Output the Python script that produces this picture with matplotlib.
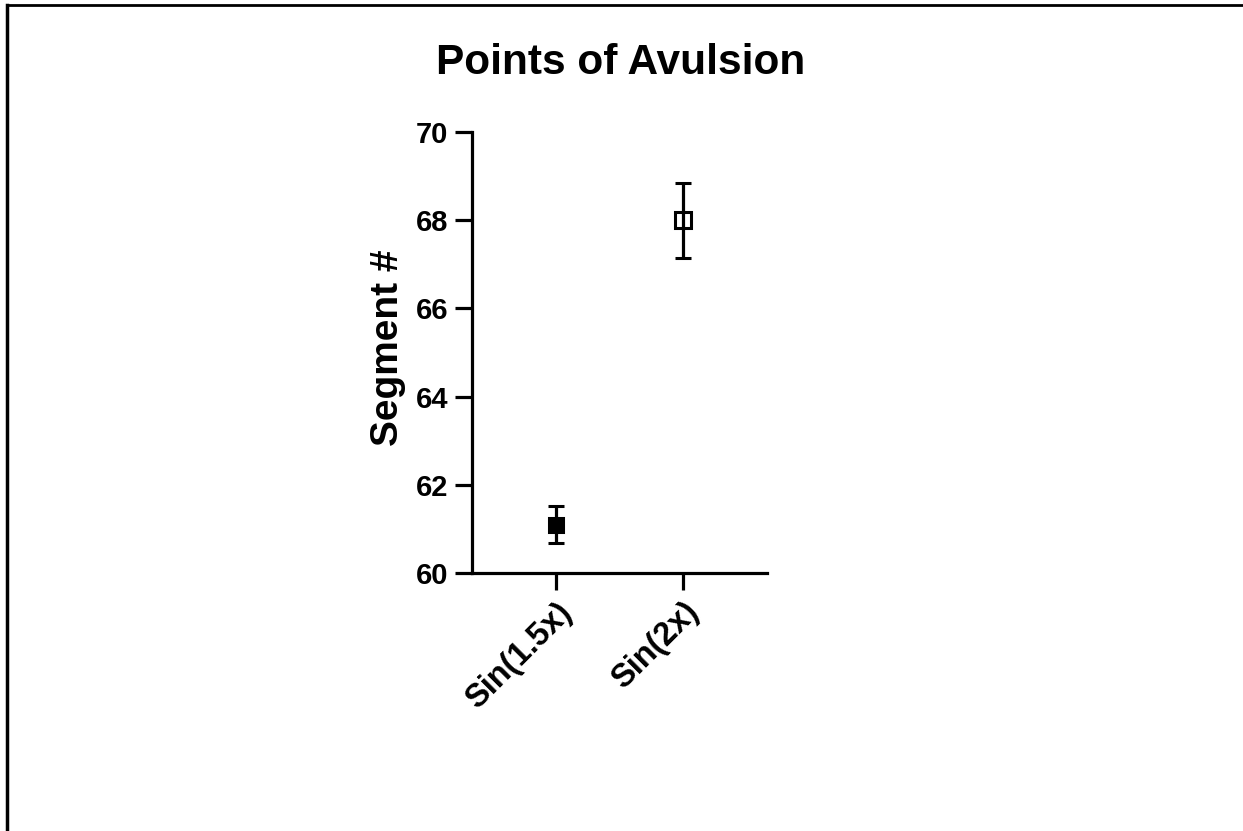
import matplotlib.pyplot as plt
from matplotlib.lines import Line2D

plt.rcParams['font.family'] = ['Liberation Sans', 'DejaVu Sans']
plt.rcParams['font.weight'] = 'bold'

# group means and error (segment number where avulsion happened)
groups = ['Sin(1.5x)', 'Sin(2x)']
means = [61.09, 68.0]
errors = [0.42, 0.85]
y_ticks = [60, 62, 64, 66, 68, 70]

fig = plt.figure(figsize=(12.43, 8.31), dpi=100)
ax = fig.add_axes([0.3797, 0.3105, 0.2373, 0.5307])

xs = list(range(len(groups)))
styles = [dict(marker='s', mfc='black', ms=10),
          dict(marker='s', mfc='none', ms=12)]
for x, m, e, st in zip(xs, means, errors, styles):
    ax.errorbar(x, m, yerr=e, color='black', ecolor='black', elinewidth=2.3,
                capsize=6, capthick=2.3, mec='black', mew=2.2,
                linestyle='none', **st)

ax.set_xlim(-0.66, 1.66)
ax.set_ylim(60, 70)
ax.set_yticks(y_ticks)
ax.set_xticks(xs)
ax.set_xticklabels(groups, rotation=45, ha='right', rotation_mode='anchor',
                   fontsize=23.5)

for side in ['top', 'right']:
    ax.spines[side].set_visible(False)
for side in ['left', 'bottom']:
    ax.spines[side].set_linewidth(2.3)
ax.tick_params(axis='both', length=12, width=2.3, pad=5)
ax.tick_params(axis='y', labelsize=21)

ax.set_ylabel('Segment #', fontsize=28, fontweight='bold')
ax.yaxis.set_label_coords(-0.225, 0.51)
fig.text(0.4995, 0.924, 'Points of Avulsion', ha='center', va='center',
         fontsize=30.5, fontweight='bold')

# border lines along the top and left edge
fig.add_artist(Line2D([0.006, 0.006], [0.0, 0.994], color='black', lw=2.5,
                      transform=fig.transFigure))
fig.add_artist(Line2D([0.006, 1.0], [0.994, 0.994], color='black', lw=2.0,
                      transform=fig.transFigure))

fig.savefig('out.png', dpi=100)
